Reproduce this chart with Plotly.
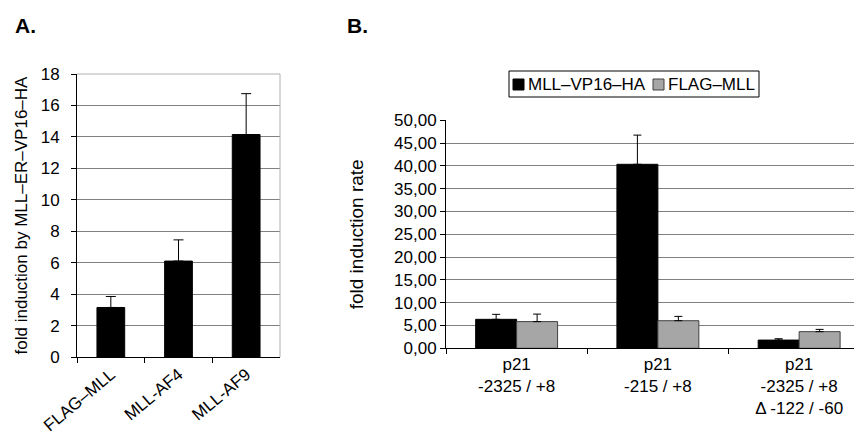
import plotly.graph_objects as go

# Panel A data
a_categories = ["FLAG–MLL", "MLL-AF4", "MLL-AF9"]
a_values = [3.15, 6.1, 14.15]
a_errors = [0.7, 1.35, 2.6]

# Panel B data
b_categories = ["p21<br>-2325 / +8", "p21<br>-215 / +8", "p21<br>-2325 / +8<br>Δ -122 / -60"]
b_series = ["MLL–VP16–HA", "FLAG–MLL"]
b_vp16_values = [6.35, 40.35, 1.8]
b_vp16_errors = [1.1, 6.4, 0.3]
b_flag_values = [5.85, 6.05, 3.65]
b_flag_errors = [1.65, 0.95, 0.5]

a_yticks = [0, 2, 4, 6, 8, 10, 12, 14, 16, 18]
b_yticks = [0, 5, 10, 15, 20, 25, 30, 35, 40, 45, 50]

FONT = "Liberation Sans, Arial, sans-serif"
W, H = 862, 435
OFF = 8  # page body margin offset
GRAY = "#a6a6a6"
GRAY_EDGE = "#404040"


def px_x(p):
    return (p - OFF) / W


def px_y(p):
    return (H - (p - OFF)) / H


fig = go.Figure()

fig.add_trace(go.Bar(
    x=a_categories, y=a_values, xaxis="x", yaxis="y",
    width=0.41, marker=dict(color="black", line=dict(color="black", width=1)),
    error_y=dict(type="data", array=a_errors, arrayminus=[0] * len(a_errors),
                 symmetric=False, color="black", thickness=1, width=5),
    showlegend=False,
))

fig.add_trace(go.Bar(
    x=b_categories, y=b_vp16_values, xaxis="x2", yaxis="y2", name=b_series[0],
    width=0.29, offset=-0.29, showlegend=False,
    marker=dict(color="black", line=dict(color="black", width=1)),
    error_y=dict(type="data", array=b_vp16_errors, arrayminus=[0] * 3,
                 symmetric=False, color="black", thickness=1, width=4),
))
fig.add_trace(go.Bar(
    x=b_categories, y=b_flag_values, xaxis="x2", yaxis="y2", name=b_series[1],
    width=0.29, offset=0, showlegend=False,
    marker=dict(color=GRAY, line=dict(color=GRAY_EDGE, width=1)),
    error_y=dict(type="data", array=b_flag_errors, arrayminus=[0] * 3,
                 symmetric=False, color="black", thickness=1, width=4),
))

tickfont = dict(family=FONT, size=17, color="black")

# Legend for panel B (box, swatches, labels)
leg_shapes = [
    dict(type="rect", xref="paper", yref="paper",
         x0=px_x(509), x1=px_x(759), y0=px_y(97), y1=px_y(71),
         line=dict(color="black", width=1), fillcolor="white"),
    dict(type="rect", xref="paper", yref="paper",
         x0=px_x(513), x1=px_x(524), y0=px_y(90), y1=px_y(79),
         line=dict(color="black", width=1), fillcolor="black"),
    dict(type="rect", xref="paper", yref="paper",
         x0=px_x(653), x1=px_x(664), y0=px_y(90), y1=px_y(79),
         line=dict(color=GRAY_EDGE, width=1), fillcolor=GRAY),
]
leg_annots = [
    dict(text=b_series[0], x=px_x(526), y=px_y(84.5), xref="paper", yref="paper",
         xanchor="left", yanchor="middle", showarrow=False,
         font=dict(family=FONT, size=17, color="black")),
    dict(text=b_series[1], x=px_x(666), y=px_y(84.5), xref="paper", yref="paper",
         xanchor="left", yanchor="middle", showarrow=False,
         font=dict(family=FONT, size=17, color="black")),
]

fig.update_layout(
    width=W, height=H,
    margin=dict(l=0, r=0, t=0, b=0, autoexpand=False),
    paper_bgcolor="white", plot_bgcolor="white",
    separators=",.",
    barmode="overlay",
    showlegend=False,
    font=dict(family=FONT, size=17, color="black"),
    xaxis=dict(
        domain=[px_x(77), px_x(280)], anchor="y", automargin=False,
        type="category", range=[-0.5, 2.5],
        showline=True, linecolor="black", linewidth=1,
        ticks="outside", tickson="boundaries", ticklen=5, tickcolor="black",
        tickangle=-40, tickfont=tickfont, showgrid=False,
    ),
    yaxis=dict(
        domain=[px_y(357), px_y(74)], anchor="x", automargin=False,
        range=[0, 18], tickvals=a_yticks,
        showline=True, linecolor="black", linewidth=1,
        ticks="outside", ticklen=5, tickcolor="black", ticklabelstandoff=8,
        showgrid=True, gridcolor="#808080", gridwidth=1, zeroline=False,
        tickfont=tickfont,
        title=dict(text="fold induction by MLL–ER–VP16–HA",
                   font=dict(family=FONT, size=17), standoff=8),
    ),
    xaxis2=dict(
        domain=[px_x(446), px_x(862)], anchor="y2", automargin=False,
        type="category", range=[-0.5, 2.445],
        showline=True, linecolor="black", linewidth=1,
        ticks="outside", tickson="boundaries", ticklen=5, tickcolor="black",
        tickangle=0, tickfont=tickfont, showgrid=False,
    ),
    yaxis2=dict(
        domain=[px_y(348.3), px_y(120.3)], anchor="x2", automargin=False,
        range=[0, 50], tickvals=b_yticks, tickformat=".2f",
        showline=True, linecolor="black", linewidth=1,
        ticks="outside", ticklen=5, tickcolor="black",
        showgrid=True, gridcolor="#808080", gridwidth=1, zeroline=False,
        tickfont=tickfont,
        title=dict(text="fold induction rate", font=dict(family=FONT, size=19), standoff=25),
    ),
    shapes=[
        dict(type="line", xref="x domain", yref="y domain", x0=0, x1=1, y0=1, y1=1,
             line=dict(color="#b0b0b0", width=1)),
        dict(type="line", xref="x domain", yref="y domain", x0=1, x1=1, y0=0, y1=1,
             line=dict(color="#b0b0b0", width=1)),
    ] + leg_shapes,
    annotations=[
        dict(text="<b>A.</b>", x=px_x(13), y=px_y(25), xref="paper", yref="paper",
             xanchor="left", yanchor="middle", showarrow=False,
             font=dict(family=FONT, size=21, color="black")),
        dict(text="<b>B.</b>", x=px_x(345), y=px_y(25), xref="paper", yref="paper",
             xanchor="left", yanchor="middle", showarrow=False,
             font=dict(family=FONT, size=21, color="black")),
    ] + leg_annots,
)

fig.write_html("out.html")
